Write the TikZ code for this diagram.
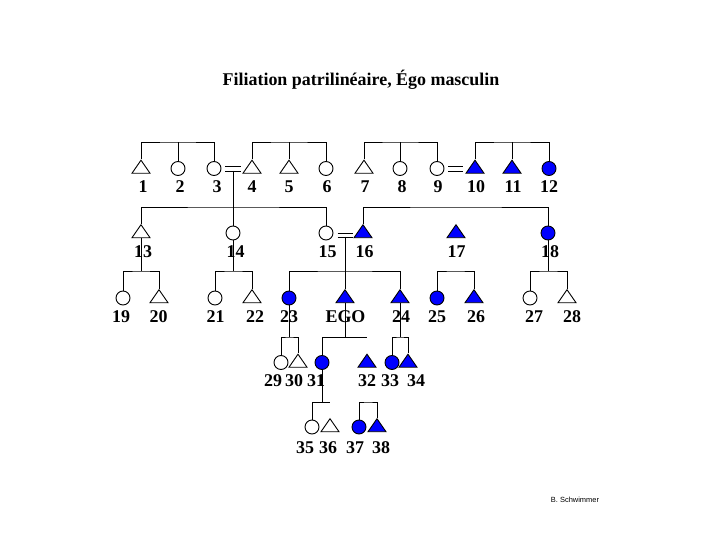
\documentclass[tikz,border=0pt]{standalone}
\usepackage{fontspec}
\setmainfont{Liberation Serif}
\newfontfamily\signfont{Liberation Sans}
\usetikzlibrary{shapes.geometric}

\begin{document}
\begin{tikzpicture}[x=1bp,y=-1bp,line width=0.9pt,
	male/.style={draw, isosceles triangle, isosceles triangle apex angle=70,
		shape border rotate=90, isosceles triangle stretches,
		minimum width=18bp, minimum height=13bp, inner sep=0pt},
	female/.style={draw, circle, minimum size=14bp, inner sep=0pt},
	kin/.style={fill=blue},
	num/.style={font=\fontsize{18}{18}\selectfont\bfseries, inner sep=0pt, anchor=base}]

	\useasboundingbox (0,0) rectangle (720,540);

	\node[font=\fontsize{18}{18}\selectfont\bfseries, inner sep=0pt, anchor=base] (title) at (361,86) {Filiation patrilinéaire, Égo masculin};

	% generation 1
	\node[male] (1) at (141,168.5) {};
	\node[female] (2) at (178,168.5) {};
	\node[female] (3) at (214,168.5) {};
	\node[male] (4) at (252,168.5) {};
	\node[male] (5) at (289,168.5) {};
	\node[female] (6) at (326,168.5) {};
	\node[male] (7) at (364,168.5) {};
	\node[female] (8) at (400,168.5) {};
	\node[female] (9) at (437,168.5) {};
	\node[male,kin] (10) at (475,168.5) {};
	\node[male,kin] (11) at (512,168.5) {};
	\node[female,kin] (12) at (549,168.5) {};

	\coordinate (s1) at (178,142);
	\coordinate (s2) at (289,142);
	\coordinate (s3) at (400,142);
	\coordinate (s4) at (512,142);
	\draw (1.north) |- (s1) -| (3.north); \draw (2.north) -- (s1);
	\draw (4.north) |- (s2) -| (6.north); \draw (5.north) -- (s2);
	\draw (7.north) |- (s3) -| (9.north); \draw (8.north) -- (s3);
	\draw (10.north) |- (s4) -| (12.north); \draw (11.north) -- (s4);

	\coordinate (m1) at (233,168.5);
	\coordinate (m2) at (455.5,168.5);
	\draw ([shift={(-8,-2.5)}]m1) -- ([shift={(8,-2.5)}]m1) ([shift={(-8,2.5)}]m1) -- ([shift={(8,2.5)}]m1);
	\draw ([shift={(-7.5,-2.5)}]m2) -- ([shift={(7.5,-2.5)}]m2) ([shift={(-7.5,2.5)}]m2) -- ([shift={(7.5,2.5)}]m2);

	% generation 2
	\node[male] (13) at (141,233) {};
	\node[female] (14) at (233,233) {};
	\node[female] (15) at (326,233) {};
	\node[male,kin] (16) at (363,233) {};
	\node[male,kin] (17) at (456,233) {};
	\node[female,kin] (18) at (548,233) {};

	\coordinate (s5) at (233,207);
	\coordinate (s6) at (456,207);
	\draw ([shift={(0,2.5)}]m1) -- (14.north);
	\draw (13.north) |- (s5) -| (15.north);
	\draw (16.north) |- (s6) -| (18.north);

	\coordinate (m3) at (345,235);
	\draw ([shift={(-7.5,-2)}]m3) -- ([shift={(7.5,-2)}]m3) ([shift={(-7.5,2)}]m3) -- ([shift={(7.5,2)}]m3);

	% generation 3
	\node[female] (19) at (123,298) {};
	\node[male] (20) at (159,298) {};
	\node[female] (21) at (215,298) {};
	\node[male] (22) at (252,298) {};
	\node[female,kin] (23) at (289,298) {};
	\node[male,kin] (ego) at (345,298) {};
	\node[male,kin] (24) at (400,298) {};
	\node[female,kin] (25) at (437,298) {};
	\node[male,kin] (26) at (474,298) {};
	\node[female] (27) at (530,298) {};
	\node[male] (28) at (567,298) {};

	\coordinate (s7) at (141,271);
	\coordinate (s8) at (233,271);
	\coordinate (s9) at (345,271);
	\coordinate (s10) at (455.5,271);
	\coordinate (s11) at (548,271);
	\draw (13.south) -- (s7); \draw (19.north) |- (s7) -| (20.north);
	\draw (14.south) -- (s8); \draw (21.north) |- (s8) -| (22.north);
	\draw ([shift={(0,2)}]m3) -- (ego.north); \draw (23.north) |- (s9) -| (24.north);
	\draw (25.north) |- (s10) -| (26.north);
	\draw (18.south) -- (s11); \draw (27.north) |- (s11) -| (28.north);

	% generation 4
	\node[female] (29) at (281,362.5) {};
	\node[male] (30) at (298,362.5) {};
	\node[female,kin] (31) at (322,362.5) {};
	\node[male,kin] (32) at (367,362.5) {};
	\node[female,kin] (33) at (392,362.5) {};
	\node[male,kin] (34) at (408,362.5) {};

	\coordinate (s12) at (289,337);
	\coordinate (s13) at (345,337);
	\coordinate (e1) at (367,337);
	\coordinate (s14) at (400,337);
	\draw (23.south) -- (s12); \draw (29.north) |- (s12) -| (30.north);
	\draw (ego.south) -- (s13); \draw (31.north) |- (e1);
	\draw (24.south) -- (s14); \draw (33.north) |- (s14) -| (34.north);

	% generation 5
	\node[female] (35) at (312,427) {};
	\node[male] (36) at (330,427) {};
	\node[female,kin] (37) at (359,427) {};
	\node[male,kin] (38) at (377,427) {};

	\coordinate (s15) at (322,402);
	\coordinate (e2) at (330,402);
	\coordinate (s16) at (368,402);
	\draw (31.south) -- (s15); \draw (35.north) |- (e2);
	\draw (37.north) |- (s16) -| (38.north);

	% numbers
	\node[num] (n1) at (143,193) {1};
	\node[num] (n2) at (180,193) {2};
	\node[num] (n3) at (217,193) {3};
	\node[num] (n4) at (252,193) {4};
	\node[num] (n5) at (289,193) {5};
	\node[num] (n6) at (327,193) {6};
	\node[num] (n7) at (365,193) {7};
	\node[num] (n8) at (402,193) {8};
	\node[num] (n9) at (438,193) {9};
	\node[num] (n10) at (476,193) {10};
	\node[num] (n11) at (513,193) {11};
	\node[num] (n12) at (549,193) {12};

	\node[num] (n13) at (143,258) {13};
	\node[num] (n14) at (235.5,258) {14};
	\node[num] (n15) at (327.5,258) {15};
	\node[num] (n16) at (364.5,258) {16};
	\node[num] (n17) at (456.5,258) {17};
	\node[num] (n18) at (550,258) {18};

	\node[num] (n19) at (121,322) {19};
	\node[num] (n20) at (158.5,322) {20};
	\node[num] (n21) at (215.5,322) {21};
	\node[num] (n22) at (255,322) {22};
	\node[num] (n23) at (289,322) {23};
	\node[num] (nego) at (345.5,322) {EGO};
	\node[num] (n24) at (401,322) {24};
	\node[num] (n25) at (437,322) {25};
	\node[num] (n26) at (476,322) {26};
	\node[num] (n27) at (534,322) {27};
	\node[num] (n28) at (572,322) {28};

	\node[num] (n29) at (273,386) {29};
	\node[num] (n30) at (294,386) {30};
	\node[num] (n31) at (316,386) {31};
	\node[num] (n32) at (367,386) {32};
	\node[num] (n33) at (390,386) {33};
	\node[num] (n34) at (416,386) {34};

	\node[num] (n35) at (305,453) {35};
	\node[num] (n36) at (328,453) {36};
	\node[num] (n37) at (355,453) {37};
	\node[num] (n38) at (381,453) {38};

	\node[font=\signfont\fontsize{7.5}{7.5}\selectfont, inner sep=0pt, anchor=base] (sign) at (575,502) {B. Schwimmer};
\end{tikzpicture}
\end{document}
